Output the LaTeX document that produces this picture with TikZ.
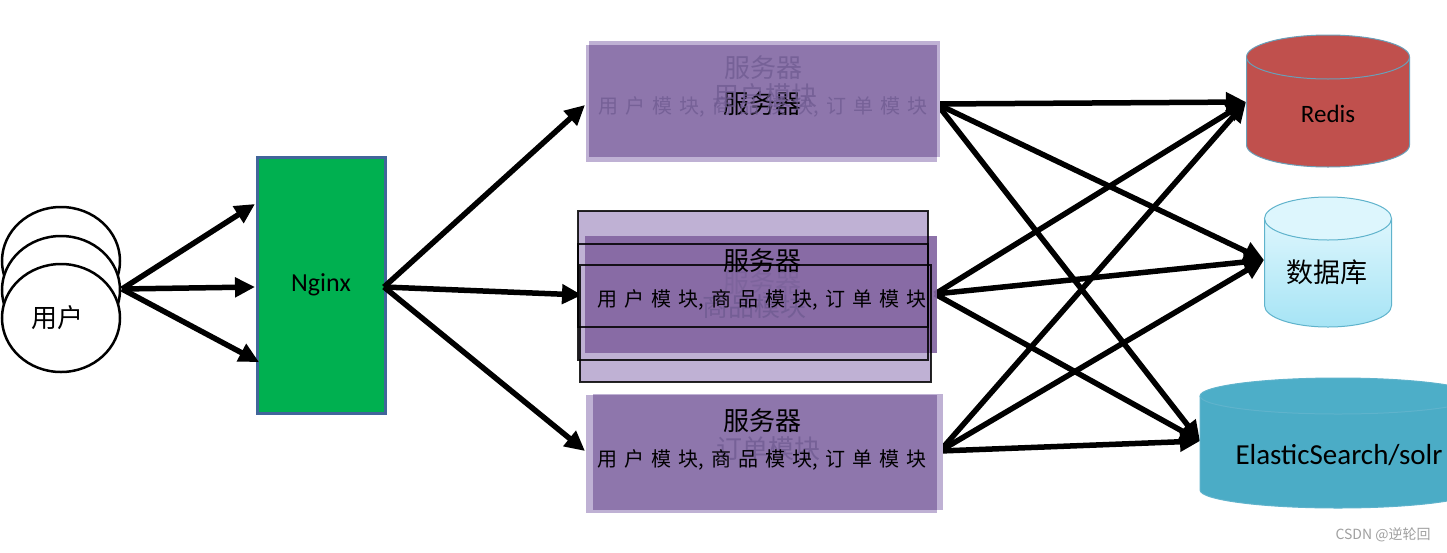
\documentclass[tikz,border=0pt]{standalone}
\usepackage{fontspec}
\setmainfont{Carlito}
\newfontfamily\cjk{Noto Sans CJK SC}
\usetikzlibrary{arrows.meta,shapes.geometric}
\definecolor{ngreen}{HTML}{00B050}
\definecolor{nborder}{HTML}{41659A}
\definecolor{plight}{HTML}{BFB1D4}
\definecolor{pdark}{HTML}{8E76AC}
\definecolor{pmid}{HTML}{8466A2}
\definecolor{ghost}{HTML}{6E5A90}
\definecolor{redisc}{HTML}{C0504D}
\definecolor{cylborder}{HTML}{6A9FB8}
\definecolor{esc}{HTML}{4BACC6}
\definecolor{estop}{HTML}{4DAEC8}
\definecolor{dbtop}{HTML}{DDF6FD}
\definecolor{dbbot}{HTML}{A6E4F5}
\definecolor{dbborder}{HTML}{5FB3CC}
\definecolor{wm}{HTML}{A0A0A0}
\newcommand\kgap{\hspace{7pt}}
\newcommand\modtext{用\kgap 户\kgap 模\kgap 块,\kgap 商\kgap 品\kgap 模\kgap 块,\kgap 订\kgap 单\kgap 模\kgap 块}
% cx, ytop, ybot, rx, ry, body options, top fill, border colour
\newcommand\dbcyl[8]{%
  \path[#6] (#1-#4,#2) -- (#1-#4,#3) arc[start angle=180,end angle=360,x radius=#4pt,y radius=#5pt] -- (#1+#4,#2) -- cycle;
  \draw[#8, line width=1pt] (#1-#4,#2) -- (#1-#4,#3) arc[start angle=180,end angle=360,x radius=#4pt,y radius=#5pt] -- (#1+#4,#2);
  \filldraw[fill=#7, draw=#8, line width=1pt] (#1,#2) ellipse[x radius=#4pt, y radius=#5pt];
}
\begin{document}
\begin{tikzpicture}[x=1pt,y=-1pt,
  arr/.style={line width=5.5pt, -{Triangle[length=20pt,width=19pt]}},
  userc/.style={ellipse, draw=black, line width=2.5pt, fill=white, minimum width=118pt, minimum height=108pt, inner sep=0pt},
  lightbox/.style={rectangle, fill=plight, inner sep=0pt},
  darkbox/.style={rectangle, fill=pdark, inner sep=0pt},
  frame/.style={rectangle, draw=black, draw opacity=0.85, line width=1.2pt, inner sep=0pt},
  bigtxt/.style={font=\cjk\fontsize{26}{28}\selectfont, text=black, inner sep=0pt},
  modtxt/.style={font=\cjk\fontsize{20}{22}\selectfont, text=black, inner sep=0pt},
  ghosttxt/.style={text=ghost, text opacity=0.75},
  lattxt/.style={font=\fontsize{25}{28}\selectfont, text=black, inner sep=0pt}
]
\useasboundingbox (0,0) rectangle (1447,552);
\fill[white] (0,0) rectangle (1447,552);

% ---------- arrow end points ----------
\coordinate (uo) at (122,289);
\coordinate (ngin1) at (255,204);
\coordinate (ngin2) at (255,287);
\coordinate (ngin3) at (259,362);
\coordinate (ngout) at (384,287);
\coordinate (s1in) at (585,105);
\coordinate (s2in) at (582,295);
\coordinate (s3in) at (585,451);
\coordinate (s1out) at (937,104);
\coordinate (s2out) at (935,294);
\coordinate (s3out) at (940,451);
\coordinate (rin) at (1246,102);
\coordinate (dbin) at (1264,260);
\coordinate (esin) at (1200,441);

% ---------- users ----------
\node[userc] (u1) at (61,261) {};
\node[userc] (u2) at (61,290) {};
\node[userc] (u3) at (61,318) {};
\node[font=\cjk\fontsize{26}{28}\selectfont, inner sep=0pt] (utxt) at (57,318) {用户};

% ---------- Nginx ----------
\node[rectangle, fill=ngreen, draw=nborder, line width=3pt, minimum width=128pt, minimum height=256pt, inner sep=0pt] (ng) at (321,285) {};
\node[lattxt, font=\fontsize{26}{28}\selectfont] at (ng.center) {Nginx};

% ---------- arrows ----------
\draw[arr] (uo) -- (ngin1);
\draw[arr] (uo) -- (ngin2);
\draw[arr] (uo) -- (ngin3);
\draw[arr] (ngout) -- (s1in);
\draw[arr] (ngout) -- (s2in);
\draw[arr] (ngout) -- (s3in);
\foreach \s in {s1out,s2out,s3out}{
  \draw[arr] (\s) -- (rin);
  \draw[arr] (\s) -- (dbin);
  \draw[arr] (\s) -- (esin);
}

% ---------- top server ----------
\node[lightbox, minimum width=351pt, minimum height=116pt] (s1a) at (764.5,99) {};
\node[lightbox, minimum width=351pt, minimum height=117pt] (s1b) at (761.5,103.5) {};
\node[darkbox, minimum width=348pt, minimum height=112pt] (s1) at (763,101) {};
\node[bigtxt, ghosttxt] (s1g1) at (763,68) {服务器};
\node[bigtxt] (s1t) at (762,104) {服务器};
\node[bigtxt, ghosttxt] (s1g2) at (765,96) {用户模块};
\node[modtxt, ghosttxt] (s1g3) at (763,107) {\modtext};

% ---------- middle server ----------
\node[lightbox, minimum width=350pt, minimum height=149pt] (s2a) at (753,285.5) {};
\node[lightbox, minimum width=351pt, minimum height=117pt] (s2b) at (755.5,323.5) {};
\node[rectangle, fill=pmid, fill opacity=0.92, inner sep=0pt, minimum width=352pt, minimum height=117pt] (s2) at (761,294.5) {};
\node[frame, minimum width=350pt, minimum height=149pt] (s2fa) at (753,285.5) {};
\node[frame, minimum width=350pt, minimum height=83pt] (s2fs) at (753,285.5) {};
\node[frame, minimum width=351pt, minimum height=117pt] (s2fb) at (755.5,323.5) {};
\node[bigtxt, ghosttxt, text opacity=0.4] (s2g1) at (762,283) {服务器};
\node[bigtxt, ghosttxt] (s2g2) at (754,307) {商品模块};
\node[bigtxt] (s2t) at (762,261) {服务器};
\node[modtxt] (s2m) at (762,300) {\modtext};

% ---------- bottom server ----------
\node[lightbox, minimum width=351pt, minimum height=118pt] (s3a) at (761.5,454) {};
\node[lightbox, minimum width=350pt, minimum height=116pt] (s3b) at (768,452) {};
\node[darkbox, minimum width=344pt, minimum height=115pt] (s3) at (765,452.5) {};
\node[bigtxt, ghosttxt] (s3g) at (768,449) {订单模块};
\node[bigtxt] (s3t) at (762,421) {服务器};
\node[modtxt] (s3m) at (762,460) {\modtext};

% ---------- databases ----------
\dbcyl{1328}{57}{145}{81.5}{22}{fill=redisc}{redisc}{cylborder}
\node[lattxt] (redis) at (1328,114) {Redis};

\dbcyl{1328}{218.5}{305.5}{63.5}{21.5}{top color=dbtop, bottom color=dbbot}{dbtop}{dbborder}
\node[font=\cjk\fontsize{27}{29}\selectfont, inner sep=0pt] (db) at (1327,272) {数据库};

\dbcyl{1338}{396}{490}{138}{18}{fill=esc}{estop}{dbborder}
\node[lattxt, font=\fontsize{29}{32}\selectfont] (es) at (1339,455) {ElasticSearch/solr};

% ---------- watermark ----------
\node[font=\cjk\fontsize{14}{16}\selectfont, text=wm, inner sep=0pt] (wmk) at (1383,535) {CSDN @逆轮回};
\end{tikzpicture}
\end{document}
